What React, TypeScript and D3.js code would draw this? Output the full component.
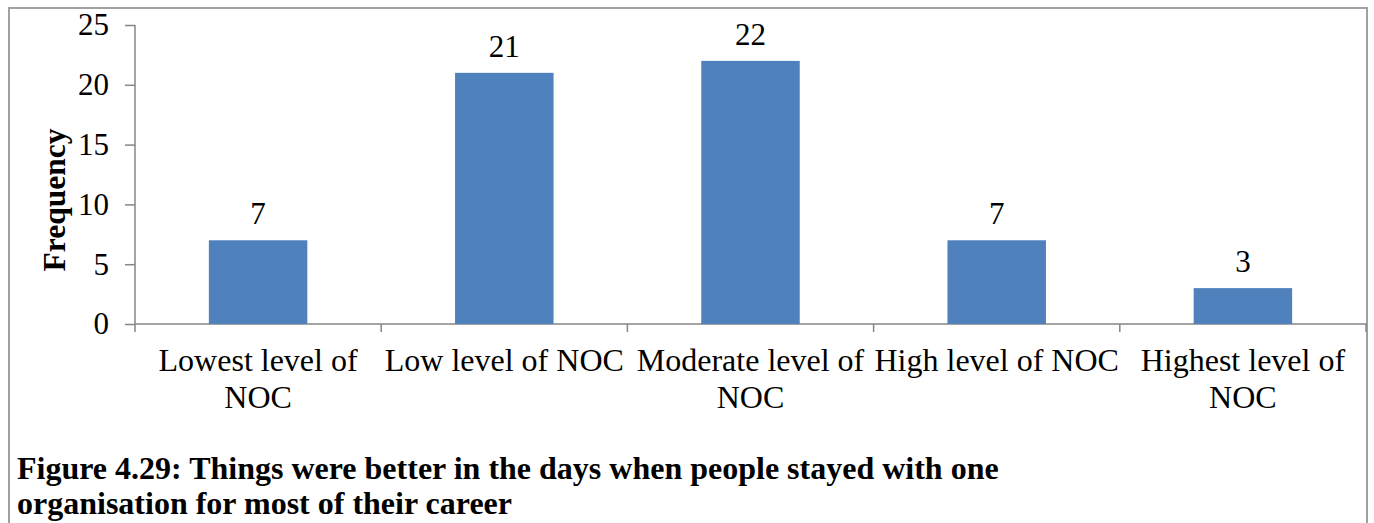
import React, { useRef, useEffect } from 'react';
import * as d3 from 'd3';

const categories = [
  'Lowest level of NOC',
  'Low level of NOC',
  'Moderate level of NOC',
  'High level of NOC',
  'Highest level of NOC',
];
const labelLines = [
  ['Lowest level of', 'NOC'],
  ['Low level of NOC'],
  ['Moderate level of', 'NOC'],
  ['High level of NOC'],
  ['Highest level of', 'NOC'],
];
const frequency = [7, 21, 22, 7, 3];
const yTicks = [0, 5, 10, 15, 20, 25];
const captionLines = [
  'Figure 4.29: Things were better in the days when people stayed with one',
  'organisation for most of their career',
];

const FONT = '"Liberation Serif", "Times New Roman", serif';

const App = () => {
  const svgRef = useRef(null);

  useEffect(() => {
    if (!svgRef.current) return;
    const W = 1374;
    const H = 523;
    const margin = { top: 25, right: 8, bottom: 199, left: 135 };

    d3.select(svgRef.current).selectAll('*').remove();
    const root = d3.select(svgRef.current).attr('width', W).attr('height', H);

    // outer frame
    root.append('rect')
      .attr('x', 9).attr('y', 8)
      .attr('width', 1358).attr('height', 530)
      .attr('fill', 'white')
      .attr('stroke', '#a0a0a0')
      .attr('stroke-width', 2);

    const width = W - margin.left - margin.right;
    const height = H - margin.top - margin.bottom;
    const svg = root.append('g').attr('transform', `translate(${margin.left},${margin.top})`);

    const x = d3.scaleBand().domain(categories).range([0, width]).paddingInner(0.6).paddingOuter(0.3);
    const y = d3.scaleLinear().domain([0, 25]).range([height, 0]);

    // y axis
    const yAxis = svg.append('g').call(d3.axisLeft(y).tickValues(yTicks).tickSize(10).tickPadding(16));
    yAxis.select('.domain').attr('stroke', '#868686').attr('stroke-width', 1.5).attr('d', `M0,0V${height}`);
    yAxis.selectAll('.tick line').attr('stroke', '#868686').attr('stroke-width', 1.5);
    yAxis.selectAll('.tick text')
      .attr('fill', '#000')
      .style('font-family', FONT)
      .style('font-size', '31px');

    // x axis
    const xAxisG = svg.append('g').attr('transform', `translate(0,${height})`);
    xAxisG.append('line')
      .attr('x1', 0).attr('x2', width)
      .attr('stroke', '#868686').attr('stroke-width', 1.5);
    const step = width / categories.length;
    xAxisG.selectAll('line.tk')
      .data(d3.range(categories.length + 1))
      .enter().append('line')
      .attr('class', 'tk')
      .attr('x1', d => d * step).attr('x2', d => d * step)
      .attr('y1', 0).attr('y2', 8)
      .attr('stroke', '#868686').attr('stroke-width', 1.5);

    const lbl = xAxisG.selectAll('text.cat')
      .data(categories)
      .enter().append('text')
      .attr('class', 'cat')
      .attr('text-anchor', 'middle')
      .style('font-family', FONT)
      .style('font-size', '32px')
      .attr('fill', '#000');
    lbl.each(function (d, i) {
      const t = d3.select(this);
      labelLines[i].forEach((line, j) => {
        t.append('tspan')
          .attr('x', (x(d) as number) + x.bandwidth() / 2)
          .attr('y', 47 + j * 37)
          .text(line);
      });
    });

    // bars
    svg.selectAll('rect.bar')
      .data(frequency)
      .enter().append('rect')
      .attr('class', 'bar')
      .attr('x', (d, i) => x(categories[i]) as number)
      .attr('y', d => y(d))
      .attr('width', x.bandwidth())
      .attr('height', d => height - y(d))
      .attr('fill', '#4f81bd');

    // data labels
    svg.selectAll('text.val')
      .data(frequency)
      .enter().append('text')
      .attr('class', 'val')
      .attr('x', (d, i) => (x(categories[i]) as number) + x.bandwidth() / 2)
      .attr('y', d => y(d) - 16)
      .attr('text-anchor', 'middle')
      .style('font-family', FONT)
      .style('font-size', '31px')
      .attr('fill', '#000')
      .text(d => d);

    // y axis title
    root.append('text')
      .attr('transform', `translate(65,200) rotate(-90)`)
      .attr('text-anchor', 'middle')
      .style('font-family', FONT)
      .style('font-size', '31.5px')
      .style('font-weight', 'bold')
      .attr('fill', '#000')
      .text('Frequency');

    // caption
    captionLines.forEach((line, j) => {
      root.append('text')
        .attr('x', 17)
        .attr('y', 479 + j * 35)
        .style('font-family', FONT)
        .style('font-size', '32px')
        .style('font-weight', 'bold')
        .attr('fill', '#000')
        .text(line);
    });
  }, []);

  return (
    <div style={{ position: 'absolute', left: 0, top: 0 }}>
      <svg ref={svgRef} style={{ display: 'block' }} />
    </div>
  );
};

export default App;
